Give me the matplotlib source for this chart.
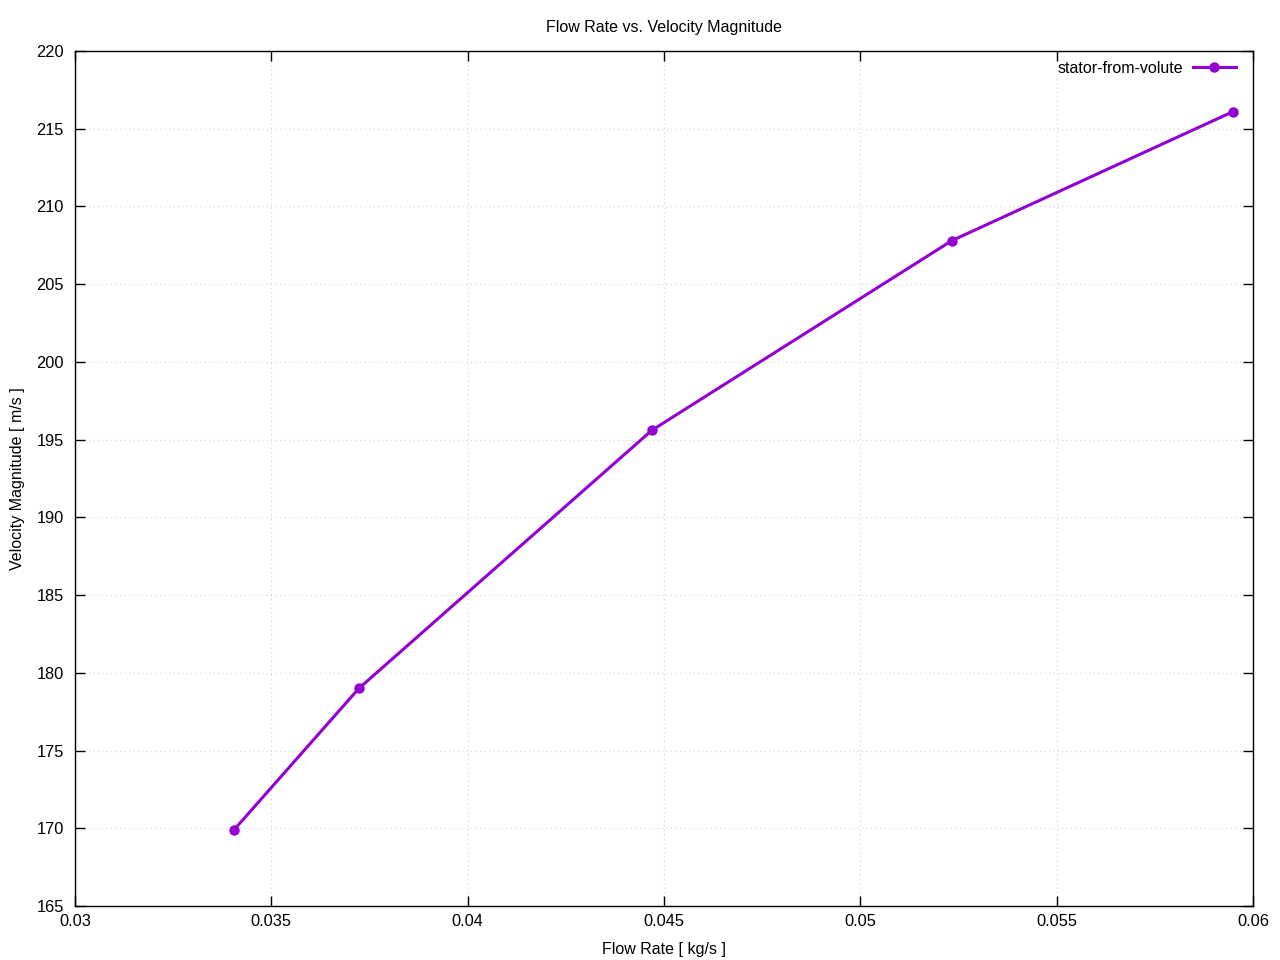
import matplotlib.pyplot as plt
from matplotlib.ticker import MultipleLocator

plt.rcParams['font.family'] = ['Liberation Sans', 'DejaVu Sans']

# datos
flow_rate = [0.03405, 0.03723, 0.04469, 0.05233, 0.05949]
velocity = [169.9, 179.0, 195.6, 207.8, 216.1]
serie = 'stator-from-volute'

fig = plt.figure(figsize=(12.8, 9.6), dpi=100)
ax = fig.add_axes([75 / 1280, 54 / 960, 1178 / 1280, 855 / 960])

ax.plot(flow_rate, velocity, color='#9400D3', linewidth=2.2, marker='o',
        markersize=6.5, label=serie)

ax.set_xlim(0.03, 0.06)
ax.set_ylim(165, 220)
ax.yaxis.set_major_locator(MultipleLocator(5))
ax.set_xticks([0.03, 0.035, 0.04, 0.045, 0.05, 0.055, 0.06])
ax.set_xticklabels(['0.03', '0.035', '0.04', '0.045', '0.05', '0.055', '0.06'])

ax.tick_params(direction='in', top=True, right=True, length=7, width=1,
               labelsize=11.8, colors='black')
ax.tick_params(axis='x', pad=6)
ax.tick_params(axis='y', pad=8)
ax.grid(True, color='#d0d0d0', linestyle=(0, (1, 3)), linewidth=0.8)
for s in ax.spines.values():
    s.set_linewidth(1)

ax.set_xlabel('Flow Rate [ kg/s ]', fontsize=11.5, labelpad=9)
ax.set_ylabel('Velocity Magnitude [ m/s ]', fontsize=11.5, labelpad=8)
ax.set_title('Flow Rate vs. Velocity Magnitude', fontsize=11.5, pad=13.5)

ax.legend(loc='upper right', frameon=False, fontsize=11.5, markerfirst=False,
          handlelength=2.7, handletextpad=0.6, borderpad=0, borderaxespad=0,
          bbox_to_anchor=((1236 - 75) / 1178, (906 - 61) / 855))

fig.savefig('out.png', dpi=100)
